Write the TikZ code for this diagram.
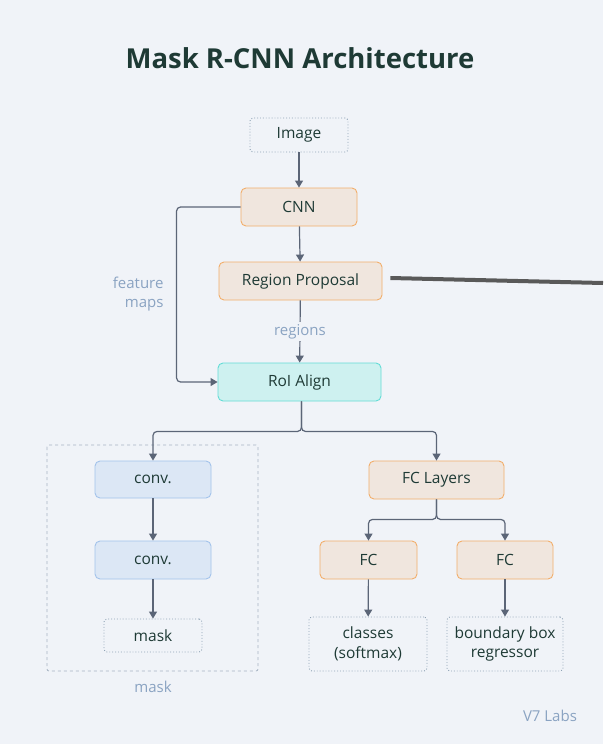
\documentclass[tikz,border=0pt]{standalone}
\usepackage{fontspec}
\setmainfont{Open Sans}
\usetikzlibrary{arrows.meta}

\definecolor{bgcol}{HTML}{F0F3F8}
\definecolor{ink}{HTML}{1E3A35}
\definecolor{wire}{HTML}{5B6577}
\definecolor{hint}{HTML}{8AA3C2}
\definecolor{orfill}{HTML}{F0E6DE}
\definecolor{ordraw}{HTML}{F2AE6B}
\definecolor{cyfill}{HTML}{CEF1F0}
\definecolor{cydraw}{HTML}{63DCD6}
\definecolor{blfill}{HTML}{DCE7F5}
\definecolor{bldraw}{HTML}{A3C3EB}
\definecolor{dotcol}{HTML}{8FA3B5}
\definecolor{boxcol}{HTML}{A7B4C3}

\tikzset{
  blk/.style={rounded corners=5pt, line width=0.9pt, text=ink,
    font=\fontsize{15.5}{19.5}\selectfont, align=center, inner sep=0pt},
  orblk/.style={blk, fill=orfill, draw=ordraw},
  cyblk/.style={blk, fill=cyfill, draw=cydraw},
  blblk/.style={blk, fill=blfill, draw=bldraw},
  outblk/.style={blk, draw=dotcol, dotted, rounded corners=3pt},
  arr/.style={draw=wire, line width=1.2pt, -{Triangle[length=7pt,width=8pt]}},
  hinttext/.style={text=hint, font=\fontsize{15}{18.5}\selectfont}
}

\begin{document}
\begin{tikzpicture}[x=1pt,y=-1pt]
\fill[bgcol] (0,0) rectangle (603,744);
\useasboundingbox (0,0) rectangle (603,744);

\node[text=ink, font=\fontsize{27.5}{32}\selectfont\bfseries] (title) at (300,58) {Mask R-CNN Architecture};

% backbone
\node[outblk, minimum width=98pt, minimum height=34pt] (img) at (299,135) {Image};
\node[orblk, minimum width=116pt, minimum height=38pt] (cnn) at (299,207) {CNN};
\node[orblk, minimum width=163pt, minimum height=38pt] (rpn) at (300.5,281) {Region Proposal};
\node[cyblk, minimum width=163pt, minimum height=38pt] (roi) at (299.5,382) {RoI Align};

% mask branch
\draw[boxcol, dashed, line width=0.8pt, rounded corners=2pt] (47,445) rectangle (258,671);
\node[blblk, minimum width=116pt, minimum height=37pt] (convA) at (153,479.5) {conv.};
\node[blblk, minimum width=116pt, minimum height=38pt] (convB) at (153,560) {conv.};
\node[outblk, minimum width=98pt, minimum height=33pt] (maskout) at (153,635.5) {mask};
\node[hinttext] (masklbl) at (153,687) {mask};

% box branch
\node[orblk, minimum width=135pt, minimum height=38pt] (fcl) at (436.5,480) {FC Layers};
\node[orblk, minimum width=97pt, minimum height=38pt] (fcA) at (368.5,560) {FC};
\node[orblk, minimum width=96pt, minimum height=38pt] (fcB) at (505,560) {FC};
\node[outblk, minimum width=118pt, minimum height=54pt] (cls) at (368,644) {classes\\(softmax)};
\node[outblk, minimum width=116pt, minimum height=54pt] (bbox) at (505,644) {boundary box\\regressor};

\node[hinttext, align=right, anchor=east] (fmaps) at (167,294) {feature\\maps};
\node[hinttext] (v7) at (550,716) {V7 Labs};

% connectors
\draw[arr] (img) -- (cnn);
\draw[arr] (cnn) -- (rpn);
\draw[arr, rounded corners=4pt] (cnn.west) -- ++(-64,0) |- (roi.west);
\draw[arr] (rpn) -- node[fill=bgcol, hinttext, inner sep=2pt] (reg) {regions} (roi);
\draw[arr, rounded corners=4pt] ([xshift=2pt]roi.south) -- ++(0,30) -| (convA.north);
\draw[arr, rounded corners=4pt] ([xshift=2pt]roi.south) -- ++(0,30) -| (fcl.north);
\draw[arr] (convA) -- (convB);
\draw[arr] (convB) -- (maskout);
\draw[arr, rounded corners=4pt] (fcl.south) -- ++(0,20) -| (fcA.north);
\draw[arr, rounded corners=4pt] (fcl.south) -- ++(0,20) -| (fcB.north);
\draw[arr] (fcA) -- (cls);
\draw[arr] (fcB) -- (bbox);

\coordinate (edge) at (603,283);
\draw[draw=black!65, line width=4pt] ([xshift=8pt,yshift=3pt]rpn.east) -- (edge);
\end{tikzpicture}
\end{document}
